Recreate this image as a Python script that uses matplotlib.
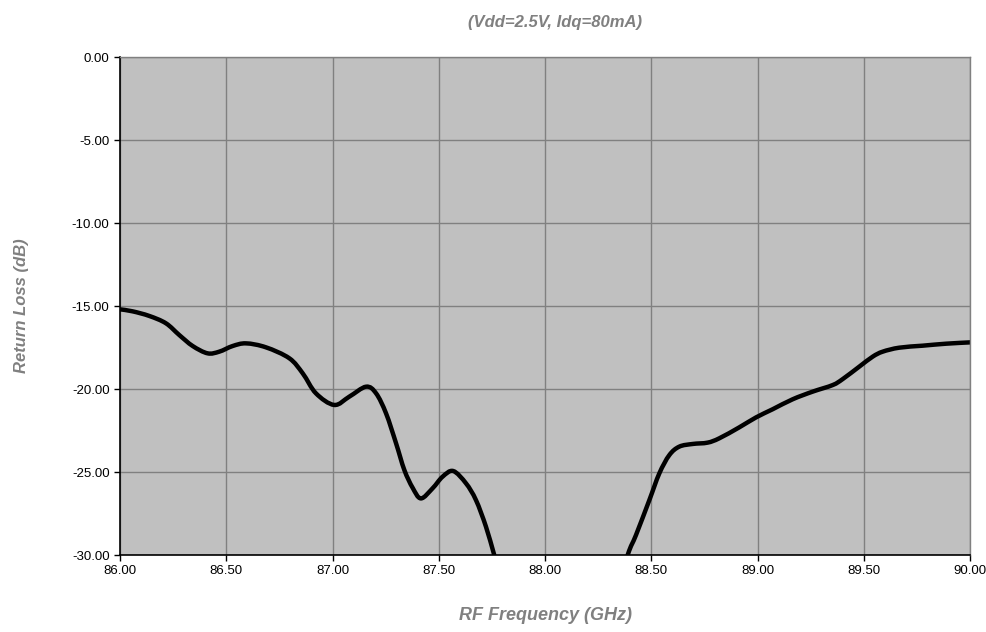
import matplotlib
matplotlib.use("Agg")
import matplotlib.pyplot as plt
from matplotlib.path import Path
from matplotlib.patches import PathPatch
import numpy as np

# values (points below -30 dB are clipped by the axis)
freq_ghz = [86.000, 86.059, 86.138, 86.216, 86.279, 86.342, 86.412, 86.467, 86.530, 86.593,
            86.687, 86.797, 86.860, 86.922, 87.008, 87.079, 87.158, 87.205, 87.252, 87.299,
            87.338, 87.377, 87.416, 87.471, 87.518, 87.568, 87.628, 87.675, 87.722, 87.761,
            87.800, 87.900, 88.050, 88.200, 88.320, 88.389, 88.428, 88.491, 88.538, 88.585,
            88.632, 88.695, 88.765, 88.820, 88.914, 88.993, 89.071, 89.165, 89.259, 89.354,
            89.401, 89.479, 89.542, 89.589, 89.667, 89.777, 89.887, 90.000]
return_loss_db = [-15.20, -15.32, -15.60, -16.04, -16.75, -17.41, -17.85, -17.75, -17.41, -17.25,
                  -17.49, -18.15, -19.06, -20.26, -20.96, -20.46, -19.86, -20.26, -21.47, -23.27,
                  -24.88, -25.95, -26.59, -25.98, -25.28, -24.94, -25.68, -26.69, -28.29, -30.00,
                  -31.70, -35.00, -37.50, -36.50, -33.00, -30.00, -28.80, -26.69, -25.08, -23.98,
                  -23.47, -23.31, -23.23, -22.97, -22.31, -21.71, -21.22, -20.62, -20.16, -19.76,
                  -19.40, -18.65, -18.05, -17.75, -17.51, -17.39, -17.27, -17.19]

x_ticks = np.arange(86.0, 90.01, 0.5)
y_ticks = np.arange(-30.0, 0.01, 5.0)


def smooth_path(xs, ys):
    # excel-style smoothed line: cubic bezier segments through the points
    pts = np.column_stack([xs, ys])
    n = len(pts)
    verts = [pts[0]]
    codes = [Path.MOVETO]
    for i in range(n - 1):
        p0 = pts[max(i - 1, 0)]
        p1 = pts[i]
        p2 = pts[i + 1]
        p3 = pts[min(i + 2, n - 1)]
        verts += [p1 + (p2 - p0) / 6.0, p2 - (p3 - p1) / 6.0, p2]
        codes += [Path.CURVE4] * 3
    return Path(verts, codes)


plt.rcParams['font.family'] = ['Liberation Sans', 'DejaVu Sans']

fig = plt.figure(figsize=(9.87, 6.32), dpi=100)
ax = fig.add_axes([0.1216, 0.1218, 0.8612, 0.788])
ax.set_facecolor('#C0C0C0')

ax.add_patch(PathPatch(smooth_path(freq_ghz, return_loss_db), fill=False,
                       edgecolor='black', lw=3.2, capstyle='round', joinstyle='round'))

ax.set_xlim(86, 90)
ax.set_ylim(-30, 0)
ax.set_xticks(x_ticks)
ax.set_yticks(y_ticks)
ax.set_xticklabels([f"{v:.2f}" for v in x_ticks])
ax.set_yticklabels([f"{v:.2f}" for v in y_ticks])
ax.tick_params(labelsize=9.5, length=4, width=1, color='black', direction='out')
ax.grid(True, color='#808080', lw=1)
ax.set_axisbelow(True)

for side in ['top', 'right']:
    ax.spines[side].set_color('#808080')
    ax.spines[side].set_linewidth(1)
for side in ['left', 'bottom']:
    ax.spines[side].set_color('black')
    ax.spines[side].set_linewidth(1.2)

lab = dict(color='#808080', fontweight='bold', fontstyle='italic')
fig.text(555 / 987, 1 - 23 / 632, "(Vdd=2.5V, Idq=80mA)", ha='center', va='center',
         fontsize=12, **lab)
ax.set_xlabel("RF Frequency (GHz)", labelpad=21, fontsize=13, **lab)
ax.set_ylabel("Return Loss (dB)", labelpad=31, fontsize=12, **lab)

fig.savefig("out.png", dpi=100)
